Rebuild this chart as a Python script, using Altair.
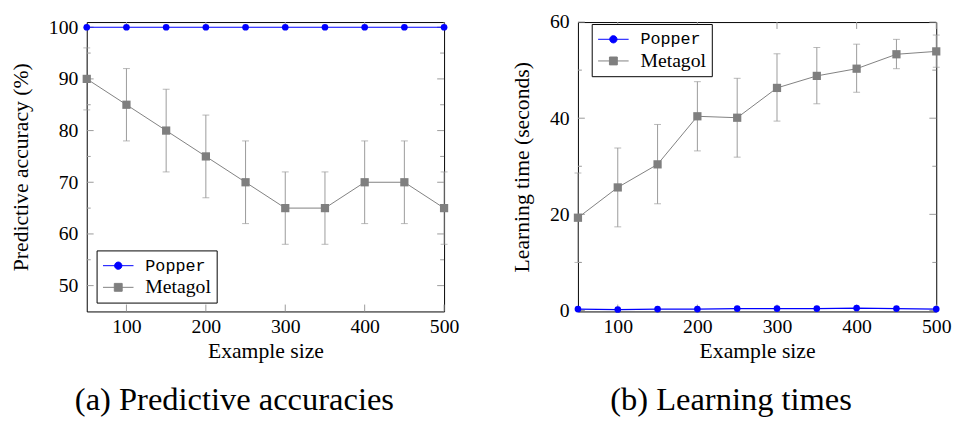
import altair as alt
import pandas as pd

# ---------------- data ----------------
sizes = [50, 100, 150, 200, 250, 300, 350, 400, 450, 500]
series_names = ["Popper", "Metagol"]

popper_acc = [100, 100, 100, 100, 100, 100, 100, 100, 100, 100]
metagol_acc = [90, 85, 80, 75, 70, 65, 65, 70, 70, 65]
metagol_acc_lo = [84, 78, 72, 67, 62, 58, 58, 62, 62, 58]
metagol_acc_hi = [96, 92, 88, 83, 78, 72, 72, 78, 78, 72]

popper_time = [0.3, 0.2, 0.3, 0.3, 0.4, 0.4, 0.4, 0.5, 0.4, 0.3]
metagol_time = [19.3, 25.6, 30.4, 40.4, 40.1, 46.3, 48.8, 50.3, 53.3, 53.9]
metagol_time_lo = [10.0, 17.4, 22.2, 33.2, 31.9, 39.4, 43.0, 45.4, 50.3, 50.6]
metagol_time_hi = [28.6, 33.8, 38.7, 47.6, 48.3, 53.4, 54.7, 55.4, 56.4, 57.3]

x_ticks = [100, 200, 300, 400, 500]
acc_ticks = [50, 60, 70, 80, 90, 100]
acc_minor = [55, 65, 75, 85, 95]
time_ticks = [0, 20, 40, 60]
time_minor = [10, 30, 50]

BLUE = "#0000ff"
GREY = "#7f7f7f"
ERR = "#9a9a9a"
TICK = "#9a9a9a"
SERIF = "Liberation Serif"
MONO = "Liberation Mono"

popper_path = ("M-1.55,0H1.55M-0.37,0A0.37,0.37,0,1,0,0.37,0"
               "A0.37,0.37,0,1,0,-0.37,0Z")
metagol_path = "M-1.55,0H1.55M-0.4,-0.4H0.4V0.4H-0.4Z"

XTITLE = "Example size"


def panel(popper_vals, met_vals, lo, hi, ydom, yticks, yminor, ytitle,
          caption, leg_x, leg_y, W, H):
    xs = alt.Scale(domain=[50, 500], nice=False, zero=False)
    ys = alt.Scale(domain=ydom, nice=False, zero=False)
    xaxis = alt.Axis(values=x_ticks, domain=False, ticks=False, grid=False,
                     labelPadding=5, titlePadding=5, labelFlush=False)
    yaxis = alt.Axis(values=yticks, domain=False, ticks=False, grid=False,
                     labelPadding=9, titlePadding=16, labelFlush=False)

    def X(f):
        return alt.X(f, scale=xs, axis=xaxis, title=XTITLE)

    def Y(f):
        return alt.Y(f, scale=ys, axis=yaxis, title=ytitle)

    pop = pd.DataFrame({"x": sizes, "y": popper_vals})
    met = pd.DataFrame({"x": sizes, "y": met_vals, "lo": lo, "hi": hi})

    layers = []
    # inner ticks
    ymaj = pd.DataFrame({"y": yticks})
    ymin = pd.DataFrame({"y": yminor})
    xmaj = pd.DataFrame({"x": x_ticks})
    for df, ln in ((ymaj, 7), (ymin, 4)):
        layers.append(alt.Chart(df).mark_rule(color=TICK, strokeWidth=1).encode(
            y=Y("y:Q"), x=alt.value(0), x2=alt.value(ln)))
        layers.append(alt.Chart(df).mark_rule(color=TICK, strokeWidth=1).encode(
            y=Y("y:Q"), x=alt.value(W - ln), x2=alt.value(W)))
    layers.append(alt.Chart(xmaj).mark_rule(color=TICK, strokeWidth=1).encode(
        x=X("x:Q"), y=alt.value(H - 7), y2=alt.value(H)))
    layers.append(alt.Chart(xmaj).mark_rule(color=TICK, strokeWidth=1).encode(
        x=X("x:Q"), y=alt.value(0), y2=alt.value(7)))

    # error bars
    layers.append(alt.Chart(met).mark_errorbar(
        ticks=True, color=ERR, thickness=1, size=7).encode(
        x=X("x:Q"), y=Y("lo:Q"), y2="hi:Q"))

    # lines and markers
    base_pop = alt.Chart(pop).encode(x=X("x:Q"), y=Y("y:Q"))
    base_met = alt.Chart(met).encode(x=X("x:Q"), y=Y("y:Q"))
    layers.append(base_pop.mark_line(color=BLUE, strokeWidth=1.2))
    layers.append(base_pop.mark_point(shape="circle", filled=True, size=46,
                                      color=BLUE, opacity=1))
    layers.append(base_met.mark_line(color=GREY, strokeWidth=1))
    layers.append(base_met.mark_point(shape="square", filled=True, size=70,
                                      color=GREY, opacity=1))

    # legend carrier (clipped out of view)
    leg = pd.DataFrame({"x": [50, 50], "y": [ydom[0] - 1000] * 2,
                        "series": series_names})
    legend = alt.Legend(
        title=None, orient="none", legendX=leg_x, legendY=leg_y,
        strokeColor="black", fillColor="white", padding=5, cornerRadius=0,
        symbolSize=400, symbolOffset=6.5, labelOffset=17, symbolStrokeWidth=1,
        labelFont=alt.ExprRef(
            f"datum.value === 'Popper' ? '{MONO}' : '{SERIF}'"),
        labelFontSize=alt.ExprRef("datum.value === 'Popper' ? 17 : 20"),
        labelColor="black", rowPadding=3)
    sc_col = alt.Scale(domain=series_names, range=[BLUE, GREY])
    sc_shape = alt.Scale(domain=series_names, range=[popper_path, metagol_path])
    layers.append(alt.Chart(leg).mark_point(filled=True, opacity=1,
                                            clip=True, size=400).encode(
        x=X("x:Q"), y=Y("y:Q"),
        fill=alt.Fill("series:N", scale=sc_col, legend=legend),
        stroke=alt.Stroke("series:N", scale=sc_col, legend=legend),
        shape=alt.Shape("series:N", scale=sc_shape, legend=legend)))

    return alt.layer(*layers).properties(
        width=W, height=H,
        title=alt.TitleParams(caption, orient="bottom", anchor="middle",
                              frame="bounds", fontSize=33, font=SERIF,
                              fontWeight="normal", color="black", offset=23))


left = panel(popper_acc, metagol_acc, metagol_acc_lo, metagol_acc_hi,
             [45, 101], acc_ticks, acc_minor, "Predictive accuracy (%)",
             "(a) Predictive accuracies", 10, 232, 363, 294)
right = panel(popper_time, metagol_time, metagol_time_lo, metagol_time_hi,
              [-0.2, 60], time_ticks, time_minor, "Learning time (seconds)",
              "(b) Learning times", 14, 2, 364, 294)

chart = alt.hconcat(left, right, spacing=136, bounds="flush").resolve_scale(
    fill="independent", stroke="independent", shape="independent"
).resolve_legend(
    fill="independent", stroke="independent", shape="independent"
).properties(
    padding={"left": 1, "top": 0, "right": 0, "bottom": 0},
    background="white"
).configure_view(stroke="black", strokeWidth=1).configure_axis(
    labelFont=SERIF, labelFontSize=20, labelColor="black",
    titleFont=SERIF, titleFontSize=22, titleColor="black",
    titleFontWeight="normal")

chart.save("out.html", embed_options={"renderer": "svg", "actions": False})
